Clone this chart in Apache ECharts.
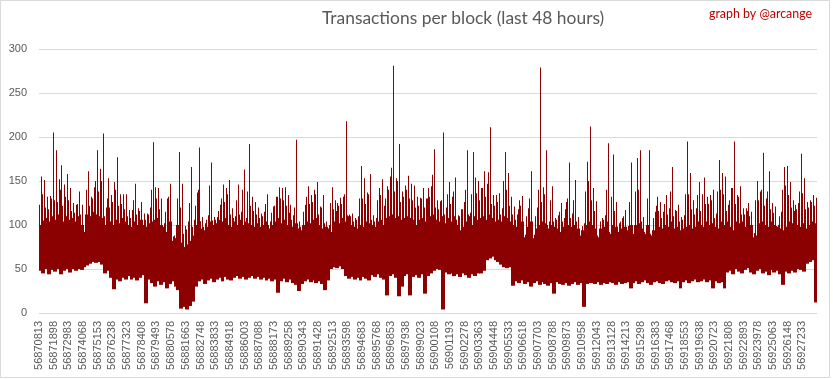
<!DOCTYPE html>
<html><head><meta charset="utf-8">
<script src="https://cdn.jsdelivr.net/npm/echarts@6/dist/echarts.min.js"></script>
<style>html,body{margin:0;padding:0;background:#fff}#c{width:833px;height:379px}</style>
</head><body><div id="c"></div>
<script>
const firstBlock = 56870813;
const tickStep = 1085;
const blockStep = 217;            // blocks per sampled column group
const lastBlock = 56928318;

// Per column group: lowest value, top of the solid band, second spike, highest spike
const lows = [
48,45,50,44,49,47,50,44,48,50,46,50,48,50,49,
52,54,56,58,57,58,55,
45,48,40,27,38,36,40,38,42,38,40,37,40,43,11,38,
34,30,36,32,35,28,33,36,30,26,
5,7,4,8,13,30,
36,38,33,37,39,35,38,40,36,41,38,37,40,42,39,41,38,40,42,39,41,
38,40,37,39,36,38,23,36,39,35,38,34,32,25,33,36,38,35,37,34,36,33,26,37,50,52,51,53,50,42,39,41,38,40,37,41,39,37,
43,41,44,40,38,20,42,44,40,19,30,42,44,20,41,43,40,44,22,42,45,48,50,49,4,46,44,45,42,44,41,45,43,40,44,42,45,
45,48,60,62,64,60,58,55,52,51,52,31,36,34,37,33,35,30,34,36,32,35,33,31,34,22,35,33,32,34,31,33,35,32,34,7,33,34,
34,33,35,32,34,33,35,34,32,35,33,34,35,28,34,36,33,35,37,34,32,35,36,34,33,36,37,35,34,36,28,35,37,34,36,38,35,
36,38,35,37,28,36,34,35,28,46,48,44,50,47,45,49,51,46,44,48,50,45,47,43,49,46,48,44,32,47,45,48,46,50,49,47,56,58,60,12
];
const bodyTops = [
100,105,108,104,110,106,112,108,104,110,106,108,104,110,100,
92,112,110,115,112,110,108,
100,105,104,100,106,102,108,104,100,98,104,100,106,100,98,102,
104,106,108,100,98,92,104,82,85,100,
80,75,78,82,88,100,
104,96,94,98,104,100,102,106,104,108,100,98,104,100,106,100,104,102,100,98,102,
98,100,104,96,100,104,108,102,106,100,104,98,102,96,94,100,104,102,106,108,100,96,98,96,92,104,106,102,108,104,110,100,98,96,100,98,104,102,
100,98,104,106,100,108,110,112,108,110,106,108,110,108,106,100,106,108,104,108,110,112,106,104,110,102,108,104,110,100,94,98,104,110,100,110,106,
108,110,106,112,108,104,106,104,110,108,104,100,98,100,104,86,98,104,85,96,100,104,102,96,100,98,96,92,98,96,100,98,100,96,88,94,100,104,
100,96,86,96,98,104,90,100,98,92,96,98,94,100,90,100,102,96,90,100,88,94,100,98,96,100,98,104,96,98,94,96,98,100,96,98,104,
100,98,104,100,102,98,96,104,100,104,98,94,104,102,104,98,96,100,86,88,102,104,100,98,104,100,98,96,94,98,104,102,104,100,98,102,96,100,104,102
];
const midPeaks = [
123,135,120,118,130,128,126,140,122,132,
128,116,114,124,112,96,140,122,130,150,
138,150,110,130,120,126,140,122,124,118,
110,108,128,112,116,106,106,112,140,128,
130,118,100,115,132,85,88,130,120,90,
95,125,98,122,140,104,98,106,145,105,
106,116,130,126,135,112,108,128,112,140,
106,138,122,116,112,108,110,124,100,114,
122,132,130,128,122,114,106,120,100,98,
115,132,124,126,135,112,120,102,98,125,
118,116,122,124,135,111,108,104,106,130,
130,124,135,106,104,128,134,115,130,140,
165,138,150,126,132,140,130,128,120,122,
130,120,130,132,157,120,118,128,112,135,
124,138,106,110,118,140,112,135,140,136,
128,142,132,160,124,122,126,112,150,140,
122,112,106,118,122,88,110,130,87,110,
140,126,135,100,128,104,106,115,104,118,
130,108,128,104,92,99,138,150,128,116,
88,104,106,140,92,132,116,98,104,110,
97,126,92,138,140,104,92,130,90,108,
122,116,108,124,112,138,110,116,104,106,
135,135,118,112,134,116,135,124,124,128,
108,138,140,135,116,128,142,124,132,112,
112,116,110,89,128,128,140,122,138,118,
114,99,110,140,145,134,120,116,118,138,
136,118,120,126,122
];
const peaks = [
155,151,132,133,205,185,152,168,146,158,
142,125,123,138,123,100,161,132,143,185,
164,204,120,153,134,149,177,135,135,135,
117,117,147,119,126,113,113,120,194,143,
142,130,102,130,147,87,90,183,147,99,
104,166,106,137,188,109,102,111,171,109,
109,123,146,142,151,119,110,146,115,163,
108,192,132,126,120,113,115,135,104,121,
132,143,142,143,134,123,111,197,104,100,
123,144,134,140,149,121,134,104,100,143,
128,125,131,132,218,112,113,108,110,167,
153,137,158,111,108,142,152,122,144,155,
281,153,192,138,145,156,147,145,132,131,
142,130,142,144,186,128,127,205,120,149,
132,154,111,118,126,185,114,183,154,150,
142,161,147,211,134,134,136,119,183,159,
132,121,112,128,133,89,119,161,89,120,
279,143,185,104,144,108,111,125,108,126,
171,113,151,109,94,102,172,212,142,127,
89,108,111,193,94,180,126,102,108,117,
99,171,94,176,185,109,94,185,91,115,
132,126,115,134,119,166,117,123,109,111,
195,159,128,119,149,126,154,132,134,140,
113,174,159,155,123,142,195,134,144,119,
119,125,115,91,150,138,182,130,161,125,
121,100,115,166,167,149,128,123,125,181,
153,126,128,134,131
];

const titleText = 'Transactions per block (last 48 hours)';
const creditText = 'graph by @arcange';
const lineColor = '#8B0000';

const seriesData = lows.map((lo, k) => [firstBlock + k * blockStep, lo, bodyTops[k], midPeaks[k], peaks[k]]);

const chart = echarts.init(document.getElementById('c'), null, {renderer: 'canvas'});
chart.setOption({
  animation: false,
  backgroundColor: '#ffffff',
  title: [{
    text: titleText, left: 322, top: 10, padding: 0,
    textStyle: {fontFamily: 'Lato', fontSize: 17.4, fontWeight: 'normal', color: '#595959'}
  }, {
    text: creditText, left: 709, top: 8, padding: 0,
    textStyle: {fontFamily: 'Lato', fontSize: 12.4, fontWeight: 'normal', color: '#C00000'}
  }],
  graphic: [{
    type: 'rect', silent: true, z: -1,
    shape: {x: 0.5, y: 0.5, width: 829, height: 377},
    style: {fill: 'none', stroke: '#D9D9D9', lineWidth: 1}
  }],
  grid: {left: 39, right: 16, top: 49, bottom: 66, containLabel: false},
  xAxis: {
    type: 'value', min: firstBlock, max: lastBlock, interval: tickStep,
    axisLine: {show: false}, axisTick: {show: false}, splitLine: {show: false},
    axisLabel: {
      rotate: 90, margin: 8, fontFamily: 'Liberation Sans', fontSize: 11, color: '#595959',
      showMaxLabel: false,
      formatter: v => ((v - firstBlock) % tickStep === 0 ? String(v) : '')
    }
  },
  yAxis: {
    type: 'value', min: 0, max: 300, interval: 50,
    axisLine: {show: false}, axisTick: {show: false},
    splitLine: {lineStyle: {color: '#D9D9D9', width: 1}},
    axisLabel: {margin: 12, fontFamily: 'Liberation Sans', fontSize: 11, color: '#595959'}
  },
  series: [{
    type: 'custom',
    encode: {x: 0, y: [1, 2, 3, 4]},
    data: seriesData,
    renderItem: function (params, api) {
      const x0 = api.value(0);
      const lo = api.value(1), bt = api.value(2), md = api.value(3), pk = api.value(4);
      const pLo = api.coord([x0, lo]);
      const pEnd = api.coord([x0 + blockStep, lo]);
      const yBt = api.coord([x0, bt])[1];
      const yMd = api.coord([x0, md])[1];
      const yPk = api.coord([x0, pk])[1];
      const left = Math.floor(pLo[0]);
      const right = Math.ceil(pEnd[0]);
      const w = pEnd[0] - pLo[0];
      const xMd = Math.floor(pLo[0] + w / 6);
      const xPk = Math.floor(pLo[0] + w * 5 / 6);
      return {
        type: 'group',
        children: [
          {type: 'rect', shape: {x: left, y: yBt, width: right - left, height: pLo[1] - yBt}, style: {fill: lineColor}},
          {type: 'rect', shape: {x: xMd, y: yMd, width: 1, height: yBt - yMd + 1}, style: {fill: lineColor}},
          {type: 'rect', shape: {x: xPk, y: yPk, width: 1, height: yBt - yPk + 1}, style: {fill: lineColor}}
        ]
      };
    }
  }]
});
</script>
</body></html>
